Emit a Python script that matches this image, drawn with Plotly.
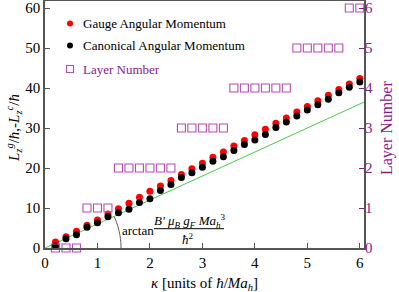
import math
import plotly.graph_objects as go

# ---------------- data ----------------
kappa = [0.2, 0.4, 0.6, 0.8, 1.0, 1.2, 1.4, 1.6, 1.8, 2.0,
         2.2, 2.4, 2.6, 2.8, 3.0, 3.2, 3.4, 3.6, 3.8, 4.0,
         4.2, 4.4, 4.6, 4.8, 5.0, 5.2, 5.4, 5.6, 5.8, 6.0]
gauge = [1.5, 2.8, 4.2, 5.7, 7.0, 8.5, 9.8, 11.2, 12.7, 14.2,
         15.5, 16.9, 18.4, 19.8, 21.2, 22.7, 24.0, 25.5, 26.9, 28.3,
         29.7, 31.2, 32.5, 34.0, 35.4, 36.8, 38.2, 39.6, 41.0, 42.4]
canonical = [0.5, 2.3, 3.3, 5.2, 6.3, 7.8, 8.8, 9.7, 11.4, 12.3,
             14.4, 15.9, 17.6, 18.8, 20.2, 21.7, 22.8, 24.4, 25.9, 27.0,
             28.4, 30.1, 31.5, 33.0, 34.5, 35.8, 37.2, 38.8, 40.2, 41.5]
layer = [0, 0, 0, 1, 1, 1, 2, 2, 2, 2,
         2, 2, 3, 3, 3, 3, 3, 4, 4, 4,
         4, 4, 4, 5, 5, 5, 5, 5, 6, 6]
green_slope = 6.0
green_kappa = [0.0, 6.08]
x_ticks = [0, 1, 2, 3, 4, 5, 6]
y_ticks = [0, 10, 20, 30, 40, 50, 60]
layer_ticks = [0, 1, 2, 3, 4, 5, 6]
legend_names = ["Gauge Angular Momentum", "Canonical Angular Momentum", "Layer Number"]

# ---------------- styles / layout geometry ----------------
FONT = "Liberation Serif"
PURPLE_AX = "#8a1a8a"
PURPLE_SQ = "#b24fb2"
AXIS_GREY = "#555555"
W, H = 399, 292
ML, MR, MT, MB = 45, 35, 1, 44
PW, PH = W - ML - MR, H - MT - MB
X_RANGE = [0, 6.08]
Y_RANGE = [0, 61.75]


def px_x(X):  # pixel -> paper x
    return (X - ML) / PW


def px_y(Y):  # pixel -> paper y
    return (H - MB - Y) / PH


def label(X, Y, text, size=13, color="black", xanchor="center", angle=0):
    fig.add_annotation(x=px_x(X), y=px_y(Y), xref="paper", yref="paper",
                       xanchor=xanchor, yanchor="middle", textangle=angle,
                       text=text, showarrow=False,
                       font=dict(family=FONT, size=size, color=color))


fig = go.Figure()

fig.add_trace(go.Scatter(
    x=green_kappa, y=[k * green_slope for k in green_kappa],
    mode="lines", line=dict(color="#4cc84c", width=1), showlegend=False,
    hoverinfo="skip"))
fig.add_trace(go.Scatter(
    x=kappa, y=gauge, mode="markers", name=legend_names[0],
    marker=dict(color="#ff0000", size=7), showlegend=False))
fig.add_trace(go.Scatter(
    x=kappa, y=canonical, mode="markers", name=legend_names[1],
    marker=dict(color="#000000", size=7), showlegend=False))
fig.add_trace(go.Scatter(
    x=kappa, y=layer, mode="markers", yaxis="y2", name=legend_names[2],
    marker=dict(symbol="square-open", color=PURPLE_SQ, size=8,
                line=dict(width=1.1, color=PURPLE_SQ)),
    showlegend=False, cliponaxis=False))

# ---- hand-made legend (symbols as pixel-sized shapes, text as annotations) ----
leg_rows = [23.5, 45.5, 69]
leg_sym_x = 70
leg_txt_x = 81
leg_colors = ["#ff0000", "#000000", PURPLE_SQ]
leg_txt_colors = ["black", "black", PURPLE_AX]
for i, name in enumerate(legend_names):
    if i < 2:
        fig.add_shape(type="circle", xref="paper", yref="paper",
                      xsizemode="pixel", ysizemode="pixel",
                      xanchor=px_x(leg_sym_x), yanchor=px_y(leg_rows[i]),
                      x0=-3, x1=3, y0=-3, y1=3,
                      fillcolor=leg_colors[i], line=dict(width=0))
    else:
        fig.add_shape(type="rect", xref="paper", yref="paper",
                      xsizemode="pixel", ysizemode="pixel",
                      xanchor=px_x(leg_sym_x), yanchor=px_y(leg_rows[i]),
                      x0=-3.5, x1=3.5, y0=-3.5, y1=3.5,
                      fillcolor="rgba(0,0,0,0)", line=dict(width=1.1, color=PURPLE_SQ))
    label(leg_txt_x, leg_rows[i], name, size=13, color=leg_txt_colors[i], xanchor="left")

# arc marking the slope angle (pixel-isotropic circle about the origin)
px_per_x = PW / (X_RANGE[1] - X_RANGE[0])
px_per_y = PH / (Y_RANGE[1] - Y_RANGE[0])
r_px = 76
theta_max = math.atan(green_slope * px_per_y / px_per_x)
arc_pts = []
n = 24
for i in range(n + 1):
    t = theta_max * i / n
    arc_pts.append((r_px * math.cos(t) / px_per_x, r_px * math.sin(t) / px_per_y))
path = "M " + " L ".join("%.4f,%.4f" % p for p in arc_pts)
fig.add_shape(type="path", path=path, xref="x", yref="y",
              line=dict(color="#555555", width=1))

# fraction label
label(138, 230.5, "arctan")
label(190, 220.5,
      "<i>B'</i> <i>μ<sub>B</sub></i> <i>g<sub>F</sub></i> <i>Ma<sub>h</sub></i><sup>3</sup>")
fig.add_shape(type="line", x0=px_x(154), x1=px_x(224), y0=px_y(228.7), y1=px_y(228.7),
              xref="paper", yref="paper", line=dict(color="black", width=1))
label(188, 238.5, "<i>ħ</i><sup>2</sup>")

# axis titles
label(204.5, 284, "<i>κ</i> [units of <i>ħ</i>/<i>Ma<sub>h</sub></i>]", size=15)
label(14, 128,
      "<i>L<sub>z</sub><sup>g</sup></i>/<i>ħ</i>,-<i>L<sub>z</sub><sup>c</sup></i>/<i>ħ</i>",
      size=15, angle=-90)
label(387, 128, "Layer Number", size=16, color=PURPLE_AX, angle=-90)

fig.update_layout(
    width=W, height=H,
    margin=dict(l=ML, r=MR, t=MT, b=MB, autoexpand=False),
    plot_bgcolor="white", paper_bgcolor="white",
    font=dict(family=FONT, size=14, color="black"),
    showlegend=False,
    xaxis=dict(range=X_RANGE, tickvals=x_ticks, ticks="inside", ticklen=5,
               tickcolor=AXIS_GREY, showline=True, linecolor=AXIS_GREY, linewidth=1.5,
               mirror=True, showgrid=False, zeroline=False, automargin=False,
               tickfont=dict(family=FONT, size=15)),
    yaxis=dict(range=Y_RANGE, tickvals=y_ticks, ticks="inside", ticklen=5,
               tickcolor=AXIS_GREY, showline=True, linecolor=AXIS_GREY, linewidth=1.5,
               mirror=True, showgrid=False, zeroline=False, automargin=False,
               tickfont=dict(family=FONT, size=15)),
    yaxis2=dict(range=[Y_RANGE[0] / 10, Y_RANGE[1] / 10], tickvals=layer_ticks,
                overlaying="y", side="right", ticks="inside", ticklen=5,
                tickcolor=PURPLE_AX, showline=False, showgrid=False, zeroline=False,
                automargin=False,
                tickfont=dict(family=FONT, size=15, color=PURPLE_AX)),
)

fig.write_html("out.html", config={"displayModeBar": False},
               post_script="document.body.style.margin='0';document.body.style.padding='0';")
